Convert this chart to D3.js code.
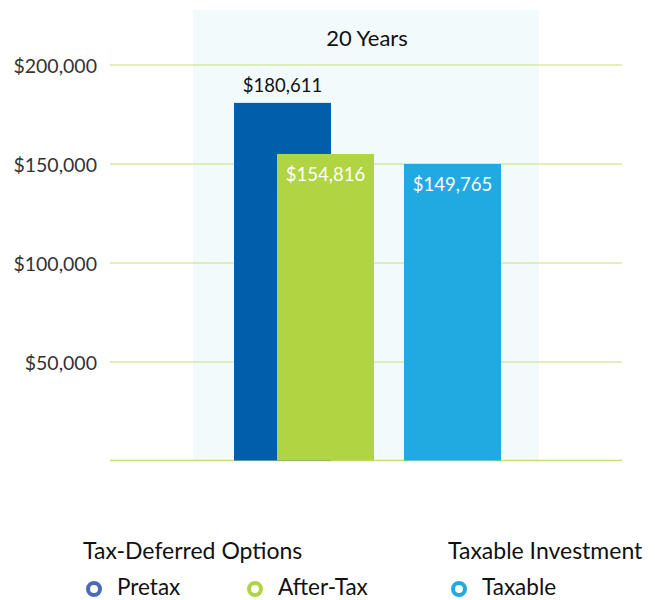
<!DOCTYPE html>
<html>
<head>
<meta charset="utf-8">
<script src="https://cdn.jsdelivr.net/npm/d3@7"></script>
<style>
  body { margin: 0; background: #fff; }
  text { font-family: Lato, "Open Sans", sans-serif; }
</style>
</head>
<body>
<div id="chart"></div>
<script>
// chart values
var categories = ["Pretax", "After-Tax", "Taxable"];
var values = [180611, 154816, 149765];
var groups = ["Tax-Deferred Options", "Taxable Investment"];
var periodLabel = "20 Years";
var yTicks = [50000, 100000, 150000, 200000];

var colors = ["#005eaa", "#b1d443", "#21aae1"];
var legendColors = ["#4a6cb6", "#b1d443", "#21aae1"];

var width = 655, height = 600;

var svg = d3.select("#chart").append("svg")
    .attr("width", width)
    .attr("height", height);

var y = d3.scaleLinear()
    .domain([0, 200000])
    .range([460.5, 64.5]);

// bars overlap in the original, so x positions are an ordinal map
var x = d3.scaleOrdinal()
    .domain(categories)
    .range([234, 277, 404]);
var barW = 97;

// light panel behind the bars
svg.append("rect")
    .attr("x", 193)
    .attr("y", 10)
    .attr("width", 346)
    .attr("height", y(0) - 10)
    .attr("fill", "#f2fafc");

svg.append("text")
    .attr("x", 367)
    .attr("y", 46)
    .attr("text-anchor", "middle")
    .style("font-size", "22px")
    .attr("fill", "#111")
    .text(periodLabel);

// grid + labels
var yAxis = d3.axisLeft(y)
    .tickValues(yTicks)
    .tickSize(-(622 - 110))
    .tickPadding(13)
    .tickFormat(function (d) { return "$" + d3.format(",")(d); });

var gy = svg.append("g")
    .attr("transform", "translate(110,0)")
    .call(yAxis);
gy.select(".domain").remove();
gy.selectAll(".tick line")
    .attr("stroke", "#c5de78")
    .attr("stroke-width", 1.2);
gy.selectAll(".tick text")
    .attr("fill", "#333")
    .attr("dy", "0.42em")
    .style("font-size", "19.5px");

svg.append("line")
    .attr("x1", 110).attr("x2", 622)
    .attr("y1", y(0)).attr("y2", y(0))
    .attr("stroke", "#c5de78")
    .attr("stroke-width", 1.5);

var bars = svg.selectAll(".bar")
    .data(categories)
    .enter().append("rect")
    .attr("class", "bar")
    .attr("x", function (d) { return x(d); })
    .attr("y", function (d, i) { return y(values[i]); })
    .attr("width", barW)
    .attr("height", function (d, i) { return y(0) - y(values[i]); })
    .attr("fill", function (d, i) { return colors[i]; });

svg.selectAll(".val")
    .data(categories)
    .enter().append("text")
    .attr("class", "val")
    .attr("x", function (d) { return x(d) + barW / 2; })
    .attr("y", function (d, i) { return i == 0 ? y(values[i]) - 11 : y(values[i]) + 27; })
    .attr("text-anchor", "middle")
    .style("font-size", "18.5px")
    .attr("fill", function (d, i) { return i == 0 ? "#111" : "#fff"; })
    .text(function (d, i) { return "$" + d3.format(",")(values[i]); });

// legend
var groupX = [83, 448];
svg.selectAll(".grp")
    .data(groups)
    .enter().append("text")
    .attr("class", "grp")
    .attr("x", function (d, i) { return groupX[i]; })
    .attr("y", 559)
    .style("font-size", "23px")
    .attr("fill", "#111")
    .text(function (d) { return d; });

var legX = [94, 255, 459];
var leg = svg.selectAll(".leg")
    .data(categories)
    .enter().append("g")
    .attr("class", "leg")
    .attr("transform", function (d, i) { return "translate(" + legX[i] + ",589)"; });
leg.append("circle")
    .attr("r", 6)
    .attr("fill", "#fff")
    .attr("stroke", function (d, i) { return legendColors[i]; })
    .attr("stroke-width", 4);
leg.append("text")
    .attr("x", 23)
    .attr("y", 6)
    .style("font-size", "22.5px")
    .attr("fill", "#111")
    .text(function (d) { return d; });
</script>
</body>
</html>
